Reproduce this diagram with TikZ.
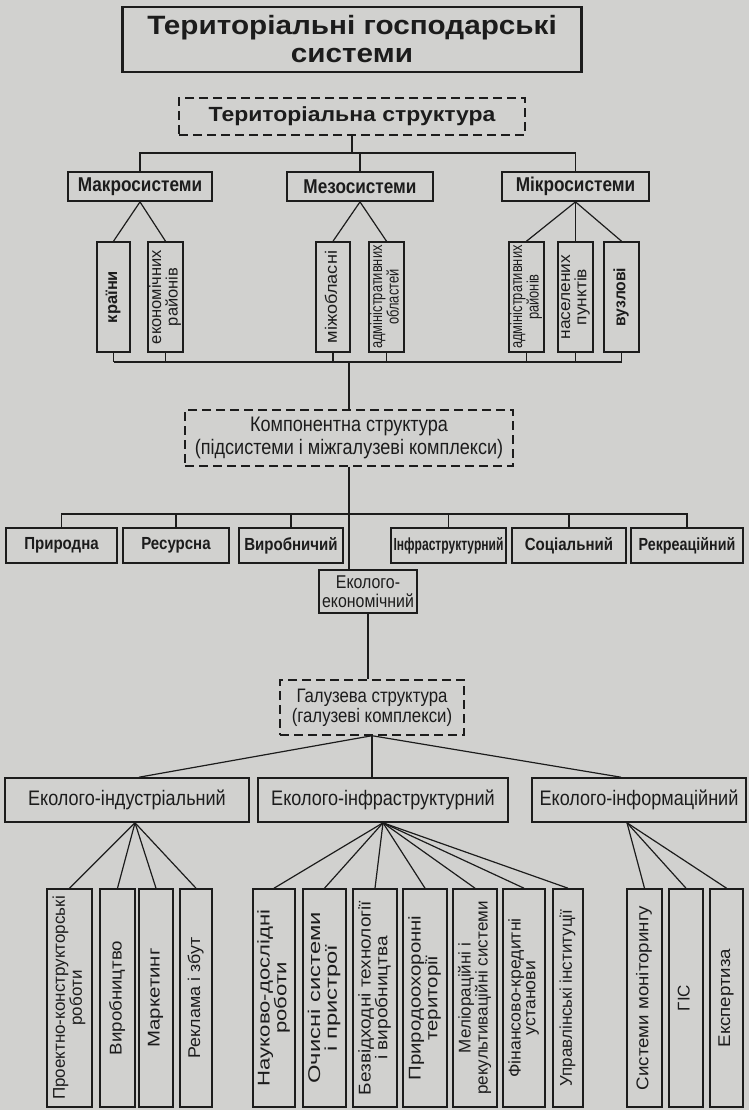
\documentclass[tikz,border=0pt]{standalone}
\usepackage{fontspec}
\usepackage{graphicx}
\setmainfont{Liberation Sans}
\newfontfamily\wideb[FakeStretch=1.12]{Liberation Sans Bold}
\newfontfamily\condb[FakeStretch=0.86]{Liberation Sans Bold}
\newfontfamily\cond[FakeStretch=0.86]{Liberation Sans}
\usetikzlibrary{calc}
\definecolor{paper}{RGB}{209,209,207}
\definecolor{ink}{RGB}{28,28,28}
\newcommand{\myvt}[2][1]{\rotatebox{90}{\scalebox{#1}[1]{\renewcommand{\arraystretch}{0.82}\begin{tabular}{@{}c@{}}#2\end{tabular}}}}
\begin{document}
\begin{tikzpicture}[x=1pt,y=-1pt,
  box/.style={draw=ink, line width=1.8pt, inner sep=0pt, text=ink, align=center},
  dbox/.style={draw=ink, line width=1.4pt, dash pattern=on 9pt off 5pt, inner sep=0pt, text=ink, align=center},
  vbox/.style={box, line width=1.6pt, minimum height=110pt, font=\fontsize{16.5}{17}\selectfont},
  lbox/.style={box, line width=1.6pt, minimum height=218pt, font=\fontsize{17}{18}\selectfont},
  rowbox/.style={box, line width=1.6pt, minimum height=35pt, font=\condb\fontsize{17.5}{19}\selectfont},
  ebox/.style={box, line width=1.6pt, minimum height=44pt, font=\cond\fontsize{21}{23}\selectfont},
  conn/.style={draw=ink, line width=1.2pt},
]
\fill[paper] (0,0) rectangle (749,1110);
\useasboundingbox (0,0) rectangle (749,1110);

% title and territorial structure
\node[box, line width=2.2pt, minimum width=459pt, minimum height=65pt, font=\wideb\fontsize{26.5}{28}\selectfont] (title) at (352,39.5) {Територіальні господарські\\системи};
\node[dbox, minimum width=346pt, minimum height=37pt, font=\wideb\fontsize{20.5}{22}\selectfont] (ts) at (352,116.5) {Територіальна структура};

\node[box, minimum width=144pt, minimum height=29pt, font=\condb\fontsize{20}{22}\selectfont] (macro) at (140,186.5) {Макросистеми};
\node[box, minimum width=146pt, minimum height=29pt, font=\condb\fontsize{20}{22}\selectfont] (meso) at (360,186.5) {Мезосистеми};
\node[box, minimum width=147pt, minimum height=29pt, font=\condb\fontsize{20}{22}\selectfont] (micro) at (575.5,186.5) {Мікросистеми};

\node[vbox, minimum width=33pt, font=\bfseries\fontsize{16.5}{17}\selectfont] (krain) at (113.5,297) {\myvt{країни}};
\node[vbox, minimum width=35pt] (econ) at (165.5,297) {\myvt{економічних\\районів}};
\node[vbox, minimum width=34pt] (mizh) at (333,297) {\myvt[1.1]{міжобласні}};
\node[vbox, minimum width=35pt] (adobl) at (386.5,297) {\myvt[0.78]{адміністративних\\областей}};
\node[vbox, minimum width=35pt] (adray) at (526.5,297) {\myvt[0.78]{адміністративних\\районів}};
\node[vbox, minimum width=35pt] (nasel) at (575.5,297) {\myvt[1.05]{населених\\пунктів}};
\node[vbox, minimum width=35pt, font=\bfseries\fontsize{16.5}{17}\selectfont] (vuzl) at (621.5,297) {\myvt[0.95]{вузлові}};

\coordinate (j1) at (352,153);
\coordinate (j2) at (349,362);
\draw[conn] (ts.south) -- (ts.south |- j1);
\draw[conn] (macro.north) -- (macro.north |- j1) -- (micro.north |- j1) -- (micro.north);
\draw[conn] (meso.north) -- (meso.north |- j1);
\foreach \c in {krain,econ}{\draw[conn] (macro.south) -- (\c.north);}
\foreach \c in {mizh,adobl}{\draw[conn] (meso.south) -- (\c.north);}
\foreach \c in {adray,nasel,vuzl}{\draw[conn] (micro.south) -- (\c.north);}
\foreach \c in {krain,econ,mizh,adobl,adray,nasel,vuzl}{\draw[conn] (\c.south) -- (\c.south |- j2);}
\draw[conn] (krain.south |- j2) -- (vuzl.south |- j2);

% component structure
\node[dbox, minimum width=328pt, minimum height=56pt, font=\cond\fontsize{21}{23}\selectfont] (komp) at (349,438) {Компонентна структура\\(підсистеми і міжгалузеві комплекси)};
\draw[conn] (j2) -- (komp.north);

\coordinate (j3) at (349,514);
\node[rowbox, minimum width=111pt] (pryr) at (61.5,545.5) {Природна};
\node[rowbox, minimum width=106pt] (resu) at (176,545.5) {Ресурсна};
\node[rowbox, minimum width=104pt] (vyro) at (291,545.5) {Виробничий};
\node[rowbox, minimum width=115pt] (infr) at (448.5,545.5) {\scalebox{0.8}[1]{Інфраструктурний}};
\node[rowbox, minimum width=114pt] (soc) at (569,545.5) {Соціальний};
\node[rowbox, minimum width=112pt] (rekr) at (687,545.5) {\scalebox{0.95}[1]{Рекреаційний}};
\node[box, line width=1.6pt, minimum width=98pt, minimum height=43pt, font=\cond\fontsize{18.5}{19}\selectfont] (eco) at (368,591.5) {Еколого-\\економічний};

\draw[conn] (komp.south) -- (j3);
\draw[conn] (pryr.north) -- (pryr.north |- j3) -- (rekr.north |- j3) -- (rekr.north);
\foreach \c in {resu,vyro,infr,soc}{\draw[conn] (\c.north) -- (\c.north |- j3);}
\draw[conn] (j3) -- (j3 |- eco.north);

% branch structure
\node[dbox, minimum width=184pt, minimum height=55pt, font=\cond\fontsize{19.5}{20}\selectfont] (gal) at (372,707.5) {Галузева структура\\(галузеві комплекси)};
\draw[conn] (eco.south) -- (eco.south |- gal.north);

\node[ebox, minimum width=244pt] (ind) at (127,800) {Еколого-індустріальний};
\node[ebox, minimum width=250pt] (infra) at (383,800) {Еколого-інфраструктурний};
\node[ebox, minimum width=214pt] (inform) at (639,800) {Еколого-інформаційний};
\draw[conn] (gal.south) -- ([xshift=12pt]ind.north);
\draw[conn] (gal.south) -- (gal.south |- infra.north);
\draw[conn] (gal.south) -- ([xshift=-18pt]inform.north);

% leaves
\node[lbox, minimum width=45pt] (p1) at (69.5,998) {\myvt{Проектно-конструкторські\\роботи}};
\node[lbox, minimum width=35pt] (p2) at (117.5,998) {\myvt[1.1]{Виробництво}};
\node[lbox, minimum width=34pt] (p3) at (156,998) {\myvt[1.2]{Маркетинг}};
\node[lbox, minimum width=32pt] (p4) at (196,998) {\myvt[1.05]{Реклама і збут}};

\node[lbox, minimum width=42pt] (m1) at (274,998) {\myvt[1.3]{Науково-дослідні\\роботи}};
\node[lbox, minimum width=43pt] (m2) at (324.5,998) {\myvt[1.4]{Очисні системи\\і пристрої}};
\node[lbox, minimum width=44pt] (m3) at (375,998) {\myvt[1.12]{Безвідходні технології\\і виробництва}};
\node[lbox, minimum width=44pt] (m4) at (425,998) {\myvt[1.2]{Природоохоронні\\території}};
\node[lbox, minimum width=44pt] (m5) at (475,998) {\myvt[1.0]{Меліораційні і\\рекультиваційні системи}};
\node[lbox, minimum width=42pt] (m6) at (524,998) {\myvt[1.04]{Фінансово-кредитні\\установи}};
\node[lbox, minimum width=30pt] (m7) at (568,998) {\myvt{Управлінські інституції}};

\node[lbox, minimum width=35pt] (r1) at (644.5,998) {\myvt[1.1]{Системи моніторингу}};
\node[lbox, minimum width=34pt] (r2) at (686,998) {\myvt{ГІС}};
\node[lbox, minimum width=33pt] (r3) at (726.5,998) {\myvt[1.1]{Експертиза}};

\foreach \c in {p1,p2,p3,p4}{\draw[conn] ([xshift=8pt]ind.south) -- (\c.north);}
\foreach \c in {m1,m2,m3,m4,m5,m6,m7}{\draw[conn] (infra.south) -- (\c.north);}
\foreach \c in {r1,r2,r3}{\draw[conn] ([xshift=-12pt]inform.south) -- (\c.north);}
\end{tikzpicture}
\end{document}
